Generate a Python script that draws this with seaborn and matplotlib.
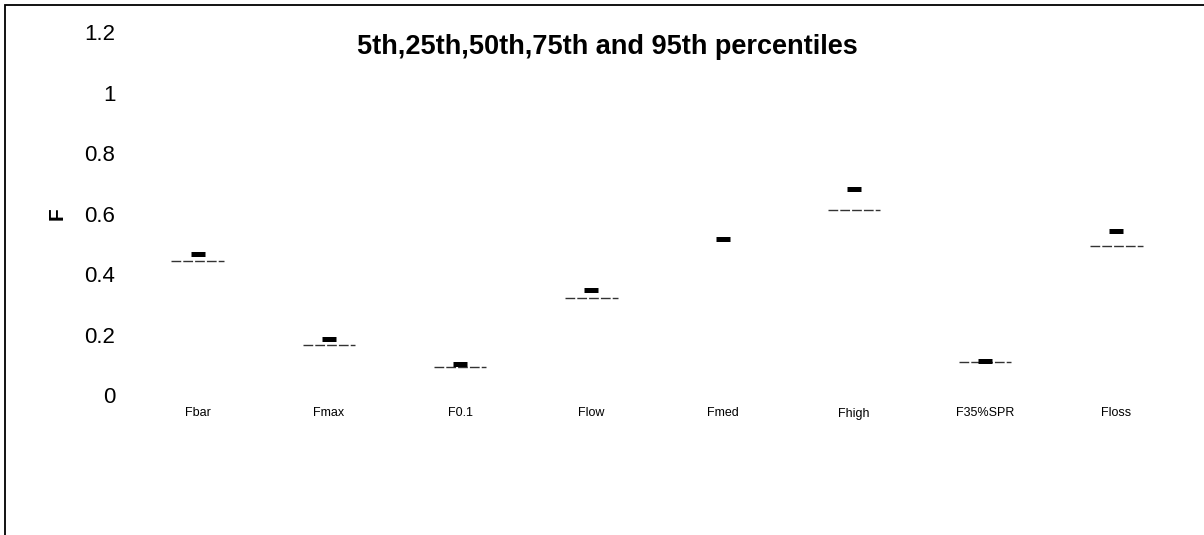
import numpy as np
import pandas as pd
import matplotlib
matplotlib.use("Agg")
import matplotlib.pyplot as plt
from matplotlib.patches import Rectangle
import seaborn as sns

# Reference points and their percentile values
categories = ["Fbar", "Fmax", "F0.1", "Flow", "Fmed", "Fhigh", "F35%SPR", "Floss"]
median_values = [0.467, 0.184, 0.103, 0.348, 0.515, 0.683, 0.113, 0.543]
lower_values = [0.442, 0.166, 0.093, 0.321, np.nan, 0.613, 0.108, 0.494]

title_text = "5th,25th,50th,75th and 95th percentiles"
y_ticks = [0, 0.2, 0.4, 0.6, 0.8, 1.0, 1.2]
y_tick_labels = ["0", "0.2", "0.4", "0.6", "0.8", "1", "1.2"]

df = pd.DataFrame({"point": categories, "median": median_values, "lower": lower_values})

sns.set_theme(style="white")
plt.rcParams["font.family"] = ["Liberation Sans", "DejaVu Sans"]
plt.rcParams["text.color"] = "black"
plt.rcParams["axes.labelcolor"] = "black"
plt.rcParams["xtick.color"] = "black"
plt.rcParams["ytick.color"] = "black"

fig = plt.figure(figsize=(12.04, 5.35), dpi=100)
ax = fig.add_axes([132 / 1204, 1 - 395 / 535, 1050 / 1204, (395 - 32.5) / 535])

# thin percentile lines behind the median dashes
pos = np.arange(len(categories))
ax.hlines(df["lower"], pos - 0.2, pos + 0.2, colors="#333333", linewidth=1.0,
          linestyles=(0, (7, 1.5)), zorder=2)

# thick dash at the median of each reference point
sns.scatterplot(data=df, x="point", y="median", marker="_", s=110, linewidth=3.6,
                color="black", ax=ax, zorder=3, legend=False)

ax.set_xlim(-0.5, len(categories) - 0.5)
ax.set_ylim(0, 1.2)
ax.set_yticks(y_ticks)
ax.set_yticklabels(y_tick_labels, fontsize=16)
ax.set_xticks(pos)
ax.set_xticklabels(categories, fontsize=9)
ax.tick_params(axis="y", length=0, pad=12)
ax.tick_params(axis="x", length=0, pad=9)
ax.set_xlabel("")
ax.set_ylabel("F", fontsize=15, fontweight="bold", rotation=90)
ax.yaxis.set_label_coords(-0.062, 0.50)
sns.despine(ax=ax, left=True, bottom=True)
ax.grid(False)

fig.text(607 / 1204, 1 - 47 / 535, title_text, ha="center", va="center",
         fontsize=19.5, fontweight="bold", color="black")

# chart area frame
fig.add_artist(Rectangle((5 / 1204, -0.5), 2.0, 1.5 - 5 / 535, transform=fig.transFigure,
                         fill=False, edgecolor="black", linewidth=1.3))

fig.savefig("out.png", dpi=100)
